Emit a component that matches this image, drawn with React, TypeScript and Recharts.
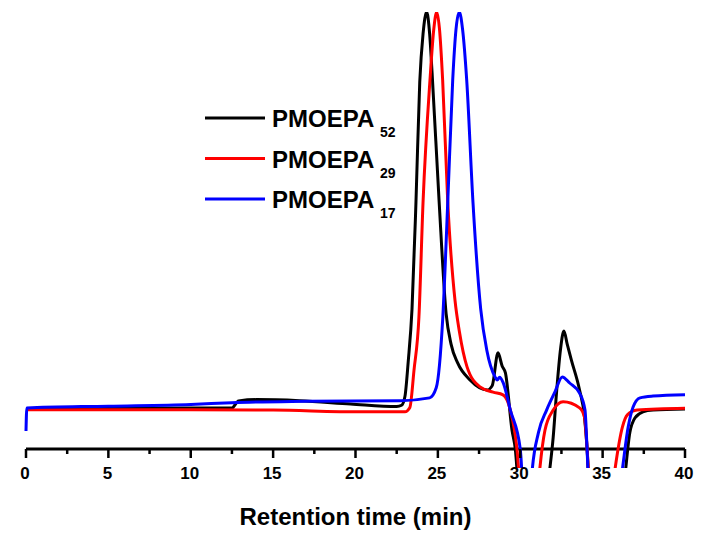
import { LineChart, Line, XAxis, YAxis, ReferenceLine, Legend, Label } from "recharts";

// retention time (min) -> detector signal (normalised, peak = 100)
const p52X = [0, 5, 10, 12.5, 12.9, 14, 16.6, 19.7, 22.5, 22.8, 23.0, 23.2, 23.43, 23.67, 23.9, 24.1, 24.32, 24.5, 24.65, 25.07, 25.5, 25.8, 26.2, 26.95, 28.0, 28.3, 28.65, 28.9, 29.1, 29.5, 29.7, 30.0, 31.0, 31.75, 32.0, 32.2, 32.45, 32.65, 32.85, 33.1, 33.6, 33.9, 34.05, 34.2, 35.0, 36.3, 36.65, 36.96, 37.45, 38.06, 40];
const p52Y = [9.2, 9.3, 9.4, 9.4, 11.0, 11.3, 11.05, 10.3, 9.7, 10.0, 12, 20, 32, 56.5, 84, 95, 100, 95, 86, 57, 31, 24, 19.7, 15.8, 13.5, 14.5, 22, 19, 17.4, 4.3, 0, -15, -30, -6, 2.7, 12.8, 23, 27, 24, 20.4, 13.5, 7.3, 0.5, -10, -30, -8, 3.7, 7.1, 8.5, 8.9, 9.15];

const p29X = [0, 10, 15, 20.3, 23.0, 23.3, 23.55, 23.85, 24.1, 24.52, 24.75, 24.93, 25.1, 25.29, 25.6, 26.04, 26.3, 26.77, 27.56, 28.35, 28.95, 29.4, 29.8, 30.1, 30.7, 31.15, 31.5, 32.0, 32.6, 33.6, 33.9, 34.05, 34.25, 35.0, 35.7, 36.2, 36.5, 37.1, 40];
const p29Y = [9.0, 9.0, 8.9, 8.5, 8.5, 9.5, 18, 30.2, 56.5, 84.4, 96, 100, 96, 84.4, 56.5, 34, 27, 18.8, 14.2, 13, 12.4, 8.9, 0, -15, -30, -6, 4.3, 8.9, 10.8, 9.4, 7.3, 0.5, -12, -30, -6, 5, 7.8, 8.9, 9.3];

const p17X = [0, 0.05, 5, 10, 12.5, 17, 22.7, 24.5, 24.9, 25.3, 25.6, 25.9, 26.1, 26.3, 26.5, 26.75, 27.13, 27.6, 27.97, 28.47, 28.6, 28.75, 28.95, 29.4, 30.0, 30.2, 30.5, 30.7, 31.1, 31.6, 32.1, 32.55, 33.0, 33.6, 33.93, 34.05, 34.2, 35.0, 36.15, 36.55, 36.85, 37.27, 38.06, 40];
const p17Y = [4.1, 9.4, 9.8, 10.2, 10.6, 10.9, 11.05, 11.7, 14, 30.2, 56.5, 84.4, 96, 100, 96, 84.4, 56.5, 32, 22.6, 16.5, 15.8, 16.4, 15.3, 8.9, 0, -12, -25, -6, 3.7, 8.9, 13, 16.5, 15.1, 12.8, 8.9, 0.5, -12, -30, -6, 5, 9.6, 11.7, 12.1, 12.4];

const xTicks = [0, 2.5, 5, 7.5, 10, 12.5, 15, 17.5, 20, 22.5, 25, 27.5, 30, 32.5, 35, 37.5, 40];

const series = [
  { name: "PMOEPA", sub: "52", color: "#000000", xs: p52X, ys: p52Y },
  { name: "PMOEPA", sub: "29", color: "#ff0000", xs: p29X, ys: p29Y },
  { name: "PMOEPA", sub: "17", color: "#0000ff", xs: p17X, ys: p17Y },
];

const FONT = "'Liberation Sans', Arial, sans-serif";
const Y_MIN = -4.35;
const Y_MAX = 100;
const PLOT_TOP = 12;
const PLOT_H = 456;
// distance from bottom of plot (clip edge) up to the y=0 axis line
const AXIS_LIFT = (PLOT_H * -Y_MIN) / (Y_MAX - Y_MIN);

const toPoints = (xs: number[], ys: number[]) => xs.map((x, i) => ({ x, y: ys[i] }));

const Tick = (props: any) => {
  const { x, y, payload } = props;
  const v = payload.value;
  const major = v % 5 === 0;
  const ay = y - AXIS_LIFT;
  return (
    <g>
      <line x1={x} x2={x} y1={ay} y2={ay + (major ? 9 : 5)} stroke="#000" strokeWidth={2.5} />
      {major && (
        <text x={x - 1} y={ay + 30} textAnchor="middle" fontFamily={FONT} fontWeight="bold" fontSize={17} fill="#000">
          {v}
        </text>
      )}
    </g>
  );
};

const LegendBox = () => (
  <svg width={210} height={120}>
    {series.map((s, i) => {
      const ly = 18 + i * 40.5;
      return (
        <g key={s.sub}>
          <line x1={5} x2={65} y1={ly} y2={ly} stroke={s.color} strokeWidth={3} />
          <text x={72} y={ly + 9} fontFamily={FONT} fontWeight="bold" fontSize={24} fill="#000">
            {s.name}
          </text>
          <text x={180} y={ly + 19} fontFamily={FONT} fontWeight="bold" fontSize={14} fill="#000">
            {s.sub}
          </text>
        </g>
      );
    })}
  </svg>
);

export default function App() {
  return (
    <div style={{ position: "absolute", left: 0, top: 0, width: 714, height: 539, background: "#fff" }}>
      <LineChart width={714} height={539} margin={{ top: PLOT_TOP, right: 29, bottom: 0, left: 26 }}>
        <XAxis
          type="number"
          dataKey="x"
          domain={[0, 40]}
          ticks={xTicks}
          interval={0}
          height={71}
          axisLine={false}
          tickLine={false}
          tickSize={0}
          tickMargin={0}
          tick={<Tick />}
        >
          <Label
            value="Retention time (min)"
            position="insideBottom"
            offset={14}
            style={{ fontFamily: FONT, fontWeight: "bold", fontSize: 24, fill: "#000" }}
          />
        </XAxis>
        <YAxis hide type="number" domain={[Y_MIN, Y_MAX]} allowDataOverflow width={0} />
        <ReferenceLine y={0} stroke="#000" strokeWidth={3} ifOverflow="extendDomain" />
        <Legend
          layout="vertical"
          align="center"
          verticalAlign="middle"
          wrapperStyle={{ left: 200, top: 100, width: 210 }}
          content={() => <LegendBox />}
        />
        {series.map((s) => (
          <Line
            key={s.sub}
            data={toPoints(s.xs, s.ys)}
            dataKey="y"
            type="monotone"
            stroke={s.color}
            strokeWidth={3}
            dot={false}
            activeDot={false}
            isAnimationActive={false}
          />
        ))}
      </LineChart>
    </div>
  );
}
